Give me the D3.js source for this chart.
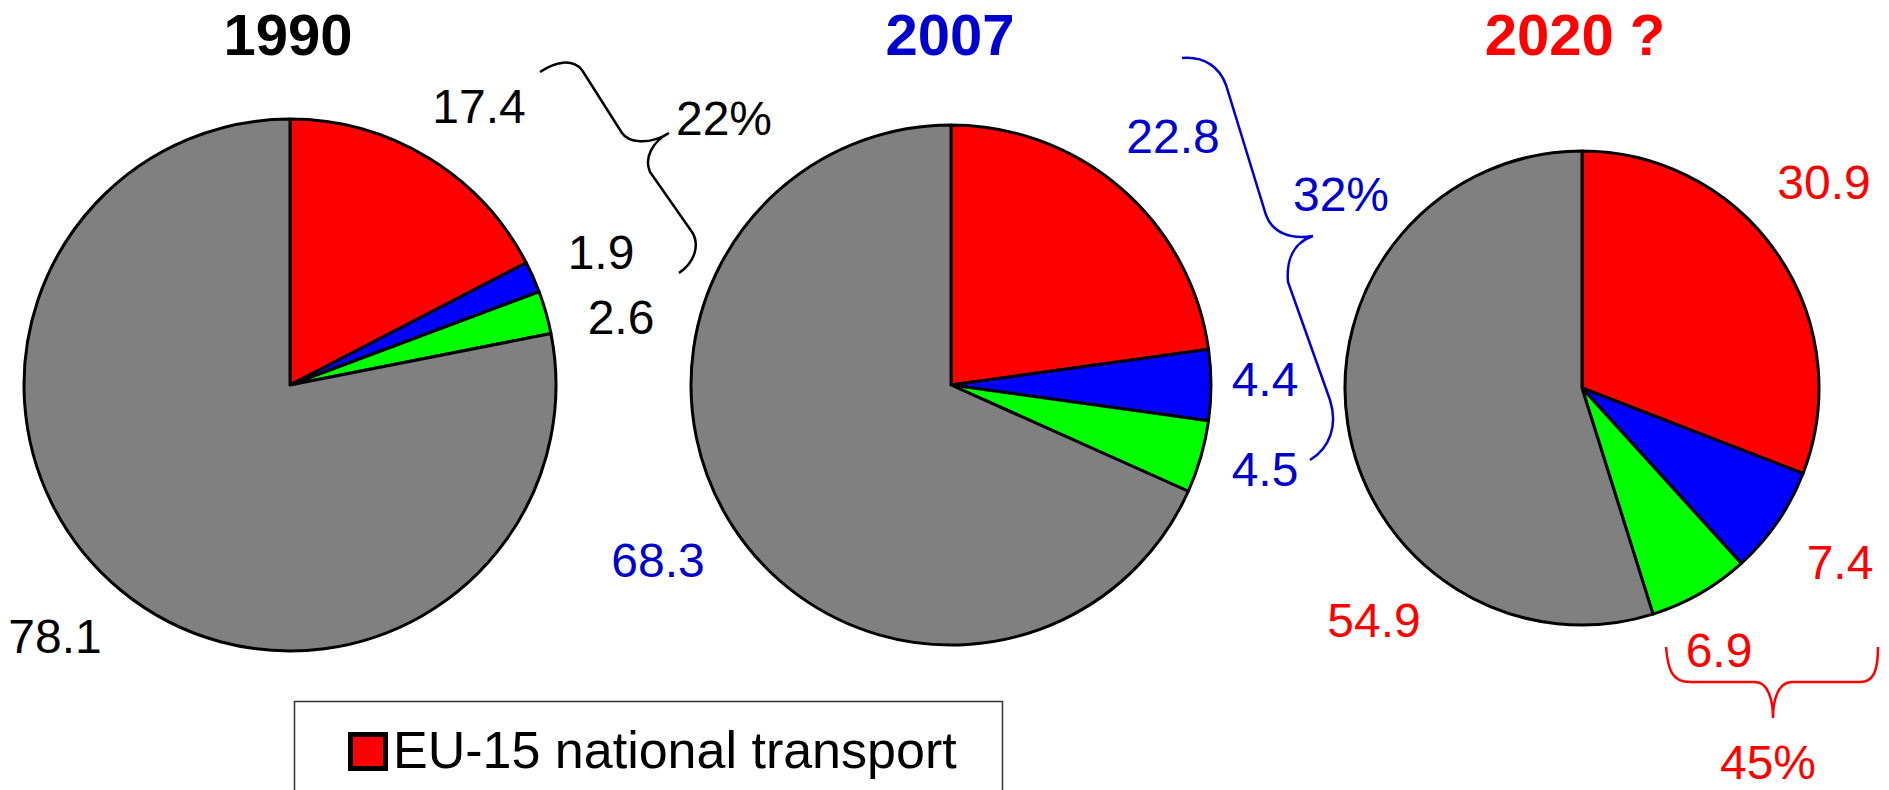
<!DOCTYPE html>
<html>
<head>
<meta charset="utf-8">
<script src="https://cdn.jsdelivr.net/npm/d3@7"></script>
<style>
    html, body { margin: 0; padding: 0; background: #fff; }
    svg { display: block; font-family: "Liberation Sans", Arial, sans-serif; }
</style>
</head>
<body>
<script>
(function () {

    // data
    var years = ['1990', '2007', '2020 ?'];
    var categories = ['EU-15 national transport', 'blue share', 'green share', 'rest'];
    var values1990 = [17.4, 1.9, 2.6, 78.1];
    var values2007 = [22.8, 4.4, 4.5, 68.3];
    var values2020 = [30.9, 7.4, 6.9, 54.9];
    var shareLabels = ['22%', '32%', '45%'];

    var sliceColors = ['#ff0000', '#0000ff', '#00ff00', '#808080'];
    var textColors = ['#000000', '#0000cc', '#ff0000'];

    // layout: pie centres/radii, label anchors (middle, baseline)
    var pies = [
        {cx: 290, cy: 385, r: 266, titleX: 288},
        {cx: 951, cy: 385, r: 260, titleX: 950},
        {cx: 1582, cy: 388, r: 237, titleX: 1575}
    ];
    var labelPos = [
        [[479, 123], [601, 269], [621, 334], [55, 653]],
        [[1173, 153], [1265, 396], [1265, 486], [658, 577]],
        [[1824, 199], [1840, 579], [1719, 667], [1374, 637]]
    ];
    var sharePos = [[724, 135], [1341, 211], [1768, 779]];
    var bracePaths = [
        'M540,72 C555,62 572,58 582,70 L622,133 C628,142 648,146 669,133 C652,142 644,158 650,172 L692,232 C700,245 695,262 679,273',
        'M1182,58 C1205,56 1220,68 1226,85 L1266,215 C1272,232 1290,240 1313,236 C1295,242 1286,258 1288,282 L1330,400 C1338,425 1330,448 1310,460',
        'M1666,647 C1668,670 1672,682 1690,682 L1755,682 C1768,682 1773,700 1773,718 C1773,700 1778,682 1792,682 L1860,682 C1874,682 1878,670 1878,647'
    ];

    var allValues = [values1990, values2007, values2020];

    var svg = d3.select('body').append('svg')
        .attr('width', 1889)
        .attr('height', 790);

    var pie = d3.pie().sort(null).value(function(d){ return d; });
    var color = d3.scaleOrdinal().domain(categories).range(sliceColors);

    allValues.forEach(function(values, i){
        drawPie(svg, values, i);
    });

    drawLegend(svg);

    function drawPie(svg, values, i){
        var p = pies[i];
        var arc = d3.arc().innerRadius(0).outerRadius(p.r);

        var g = svg.append('g')
            .attr('transform', 'translate(' + p.cx + ',' + p.cy + ')');

        g.selectAll('path.slice')
            .data(pie(values))
            .enter()
            .append('path')
            .attr('class', 'slice')
            .attr('d', arc)
            .attr('fill', function(d, k){ return color(categories[k]); })
            .attr('stroke', '#000')
            .attr('stroke-width', 3)
            .attr('stroke-linejoin', 'round');

        //title
        svg.append('text')
            .attr('x', p.titleX)
            .attr('y', 55)
            .attr('text-anchor', 'middle')
            .attr('font-size', 58)
            .attr('font-weight', 'bold')
            .attr('fill', textColors[i])
            .text(years[i]);

        //value labels
        svg.selectAll('text.val' + i)
            .data(values)
            .enter()
            .append('text')
            .attr('class', 'val' + i)
            .attr('x', function(d, k){ return labelPos[i][k][0]; })
            .attr('y', function(d, k){ return labelPos[i][k][1]; })
            .attr('text-anchor', 'middle')
            .attr('font-size', 48)
            .attr('fill', textColors[i])
            .text(function(d){ return d3.format('.1f')(d); });

        //brace + share
        svg.append('path')
            .attr('d', bracePaths[i])
            .attr('fill', 'none')
            .attr('stroke', textColors[i])
            .attr('stroke-width', 2.5);

        svg.append('text')
            .attr('x', sharePos[i][0])
            .attr('y', sharePos[i][1])
            .attr('text-anchor', 'middle')
            .attr('font-size', 48)
            .attr('fill', textColors[i])
            .text(shareLabels[i]);
    }

    function drawLegend(svg){
        var g = svg.append('g');

        g.append('rect')
            .attr('x', 294.5)
            .attr('y', 701.5)
            .attr('width', 708)
            .attr('height', 140)
            .attr('fill', '#fff')
            .attr('stroke', '#333')
            .attr('stroke-width', 1.5);

        g.append('rect')
            .attr('x', 350.5)
            .attr('y', 734.5)
            .attr('width', 35)
            .attr('height', 34)
            .attr('fill', color(categories[0]))
            .attr('stroke', '#000')
            .attr('stroke-width', 5);

        g.append('text')
            .attr('x', 393)
            .attr('y', 768)
            .attr('font-size', 52)
            .attr('fill', '#000')
            .text(categories[0]);
    }

}());
</script>
</body>
</html>
